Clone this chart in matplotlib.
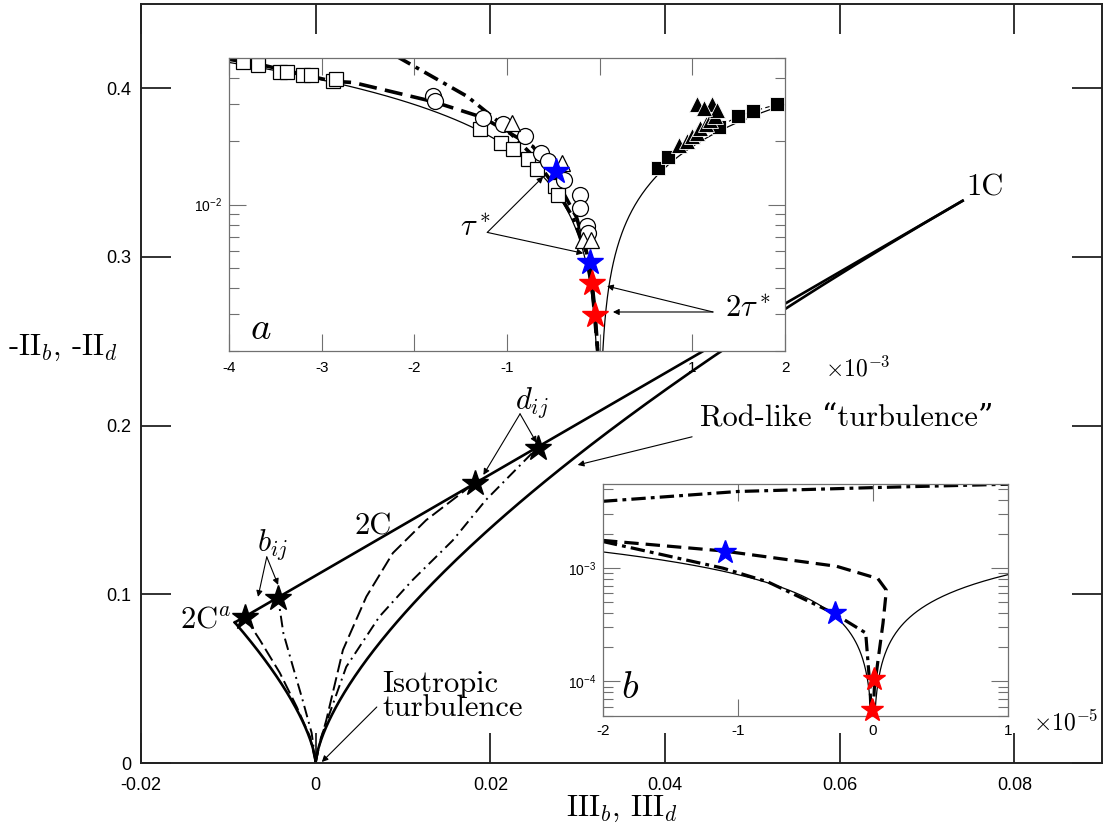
import numpy as np
import matplotlib
matplotlib.use("Agg")
import matplotlib.pyplot as plt
from matplotlib.ticker import FixedLocator, LogLocator, NullFormatter

plt.rcParams["font.family"] = "Liberation Sans"
plt.rcParams["axes.unicode_minus"] = False
plt.rcParams["mathtext.fontset"] = "cm"
# 'custom' math set is only used for the sans tick labels of the log insets
plt.rcParams["mathtext.rm"] = "Liberation Sans"
plt.rcParams["mathtext.it"] = "Liberation Sans:italic"
plt.rcParams["mathtext.sf"] = "Liberation Sans"

SERIF = ["cmr10", "DejaVu Serif"]
TXT = 22
W, H = 1103, 825

# limiting states of the invariant map (III, -II)
ISO = (0.0, 0.0)
TWO_C_AXI = (-1 / 108, 1 / 12)
ONE_C = (2 / 27, 1 / 3)

# main panel: trajectories (III, -II)
b_dash_III = [0.0, -0.00065, -0.00218, -0.0041, -0.0064, -0.0081]
b_dash_II = [0.0, 0.0156, 0.0334, 0.0534, 0.073, 0.0866]
b_dd_III = [0.0, -0.00046, -0.0015, -0.0026, -0.0037, -0.0043]
b_dd_II = [0.0, 0.0178, 0.0374, 0.057, 0.077, 0.098]
d_dash_III = [0.0, 0.0004, 0.00122, 0.00312, 0.0058, 0.00884, 0.01265, 0.0182]
d_dash_II = [0.0, 0.010, 0.0255, 0.067, 0.0986, 0.1245, 0.144, 0.166]
d_dd_III = [0.0, 0.0006, 0.0035, 0.0073, 0.0111, 0.0157, 0.0195, 0.0254]
d_dd_II = [0.0, 0.015, 0.057, 0.0868, 0.1085, 0.132, 0.156, 0.187]
b_star_III = [-0.0081, -0.0043]
b_star_II = [0.0866, 0.098]
d_star_III = [0.0182, 0.0254]
d_star_II = [0.166, 0.187]

main_xticks = [-0.02, 0, 0.02, 0.04, 0.06, 0.08]
main_xlabels = ["-0.02", "0", "0.02", "0.04", "0.06", "0.08"]
main_yticks = [0, 0.1, 0.2, 0.3, 0.4]
main_ylabels = ["0", "0.1", "0.2", "0.3", "0.4"]

# inset a: III in units of 1e-3
sq_open_x = [-3.85, -3.69, -3.45, -3.37, -3.20, -3.11, -2.88, -2.84, -1.29, -1.06, -0.935, -0.77, -0.68, -0.485, -0.45]
sq_open_y = [0.0476, 0.0461, 0.0431, 0.0427, 0.0417, 0.0413, 0.0387, 0.0395, 0.0228, 0.0197, 0.0183, 0.0164, 0.0147, 0.0122, 0.0111]
circ_x = [-1.80, -1.78, -1.26, -1.04, -0.81, -0.63, -0.56, -0.38, -0.216, -0.216, -0.14, -0.126]
circ_y = [0.0329, 0.0311, 0.0259, 0.0241, 0.0212, 0.0176, 0.0161, 0.0131, 0.0111, 0.0096, 0.0079, 0.0073]
tri_open_x = [-0.95, -0.41, -0.18, -0.09]
tri_open_y = [0.0245, 0.0158, 0.0068, 0.0068]
sq_fill_x = [0.626, 0.734, 1.29, 1.49, 1.65, 1.91]
sq_fill_y = [0.0150, 0.0169, 0.0235, 0.0263, 0.0278, 0.0300]
tri_fill_x = [0.86, 0.94, 1.00, 1.05, 1.08, 1.15, 1.19, 1.24, 1.05, 1.21, 1.27, 1.13]
tri_fill_y = [0.0193, 0.0200, 0.0212, 0.0220, 0.0233, 0.0241, 0.0254, 0.0265, 0.0300, 0.0300, 0.0283, 0.0290]
dash_a_x = [-3.99, -3.67, -2.88, -2.66, -1.80, -1.26, -0.72, -0.51, -0.25, -0.14, -0.076, -0.032, -0.02]
dash_a_y = [0.0492, 0.0466, 0.0387, 0.0382, 0.0310, 0.0260, 0.0189, 0.0142, 0.0087, 0.0059, 0.0038, 0.00225, 0.0020]
dd_a_x = [-2.19, -1.43, -1.08, -0.755, -0.51, -0.29, -0.108, -0.054, -0.02]
dd_a_y = [0.0509, 0.0328, 0.0246, 0.0177, 0.0127, 0.0087, 0.0054, 0.0032, 0.0020]
blue_a_x = [-0.475, -0.108]
blue_a_y = [0.0145, 0.0053]
red_a_x = [-0.086, -0.054]
red_a_y = [0.00422, 0.00297]
a_xticks = [-4, -3, -2, -1, 0, 1, 2]
a_xlabels = ["-4", "-3", "-2", "-1", "", "1", "2"]

# inset b: III in units of 1e-5
top_dd_b_x = [-2.0, -1.0, 0.0, 1.0]
top_dd_b_y = [3.9e-3, 4.76e-3, 5.15e-3, 5.52e-3]
dd_b_x = [-2.0, -1.11, -0.78, -0.296, -0.054, -0.022, -0.015]
dd_b_y = [1.72e-3, 1.0e-3, 7.58e-4, 4.03e-4, 2.68e-4, 8.7e-5, 5.6e-5]
dash_b_x = [-2.0, -1.11, -0.27, 0.036, 0.099, 0.074, 0.036, 0.010, 0.004]
dash_b_y = [1.76e-3, 1.42e-3, 1.04e-3, 8.1e-4, 6.4e-4, 3.26e-4, 1.5e-4, 8.7e-5, 6e-5]
blue_b_x = [-1.10, -0.278]
blue_b_y = [1.39e-3, 4.0e-4]
red_b_x = [0.01, -0.007]
red_b_y = [1.06e-4, 5.6e-5]
b_xticks = [-2, -1, 0, 1]
b_xlabels = ["-2", "-1", "0", "1"]


def axisym(a_end, n=800):
    # axisymmetric branch: eigenvalues (a, a, -2a)
    a = np.sign(a_end) * np.geomspace(1e-4, abs(a_end), n)
    return -2 * a**3, 3 * a**2


a_disk = np.sqrt(TWO_C_AXI[1] / 3)
a_rod = -np.sqrt(ONE_C[1] / 3)
disk_III, disk_II = axisym(a_disk)
rod_III, rod_II = axisym(a_rod)


def arrow(ax, start, tip):
    ax.annotate("", xy=tip, xytext=start,
                arrowprops=dict(arrowstyle="-|>", color="k", lw=0.8,
                                mutation_scale=9, shrinkA=0, shrinkB=0),
                zorder=6)


def style_inset(ax):
    for s in ax.spines.values():
        s.set_color("#707070")
        s.set_linewidth(0.9)
    ax.tick_params(which="both", direction="in", top=True, right=True,
                   color="#707070", width=0.8, labelsize=11)
    ax.tick_params(which="major", length=12)
    ax.tick_params(which="minor", length=7)
    ax.tick_params(axis="x", which="minor", bottom=False, top=False)
    ax.yaxis.set_minor_locator(LogLocator(base=10, subs=np.arange(2, 10)))
    ax.yaxis.set_minor_formatter(NullFormatter())


def sans_pow_labels(ax, ticks, exps):
    ax.yaxis.set_major_locator(FixedLocator(ticks))
    ax.set_yticklabels([r"$10^{%d}$" % e for e in exps])
    for t in ax.get_yticklabels():
        t.set_math_fontfamily("custom")


fig = plt.figure(figsize=(W / 100, H / 100), dpi=100)

# ---------------- main invariant map ----------------
ax = fig.add_axes([141 / W, 1 - 763 / H, (1101.7 - 141) / W, (763 - 4) / H])
ax.plot(disk_III, disk_II, color="k", lw=1.9)
ax.plot(rod_III, rod_II, color="k", lw=1.9)
ax.plot([TWO_C_AXI[0], ONE_C[0]], [TWO_C_AXI[1], ONE_C[1]], color="k", lw=1.9)
ax.plot(b_dash_III, b_dash_II, color="k", lw=1.4, dashes=(7, 2.6))
ax.plot(d_dash_III, d_dash_II, color="k", lw=1.4, dashes=(7, 2.6))
ax.plot(b_dd_III, b_dd_II, color="k", lw=1.4, dashes=(6, 2.5, 1, 2.5))
ax.plot(d_dd_III, d_dd_II, color="k", lw=1.4, dashes=(6, 2.5, 1, 2.5))
ax.plot(b_star_III, b_star_II, "*", color="k", ms=19, zorder=5)
ax.plot(d_star_III, d_star_II, "*", color="k", ms=19, zorder=5)

ax.set_xlim(-0.02, 0.09)
ax.set_ylim(0, 0.45)
ax.set_xticks(main_xticks)
ax.set_xticklabels(main_xlabels)
ax.set_yticks(main_yticks)
ax.set_yticklabels(main_ylabels)
ax.tick_params(direction="in", length=21.6, width=1.3, top=True, right=True,
               color="#222222", labelsize=13)
ax.tick_params(axis="x", pad=10)
ax.tick_params(axis="y", pad=7)
for s in ax.spines.values():
    s.set_linewidth(1.4)
    s.set_color("#222222")

ax.text(0.0745, 0.341, "1C", family=SERIF, fontsize=TXT, ha="left", va="center")
ax.text(0.00656, 0.140, "2C", family=SERIF, fontsize=TXT, ha="center", va="center")
ax.text(-0.0096, 0.0848, "2C$^a$", family=SERIF, fontsize=TXT, ha="right", va="center")
ax.text(-0.0049, 0.1293, r"$b_{ij}$", fontsize=TXT, ha="center", va="center")
arrow(ax, (-0.0056, 0.1222), (-0.0066, 0.0985))
arrow(ax, (-0.0056, 0.1222), (-0.0043, 0.1056))
ax.text(0.0247, 0.214, r"$d_{ij}$", fontsize=TXT, ha="center", va="center")
arrow(ax, (0.0234, 0.207), (0.0192, 0.1708))
arrow(ax, (0.0234, 0.207), (0.0253, 0.1898))
ax.text(0.0440, 0.204, "Rod-like \u201cturbulence\u201d", family=SERIF,
        fontsize=TXT, ha="left", va="center")
arrow(ax, (0.0431, 0.1934), (0.0300, 0.1767))
ax.text(0.0076, 0.0397, "Isotropic\nturbulence", family=SERIF, fontsize=TXT,
        ha="left", va="center", linespacing=0.82)
arrow(ax, (0.0070, 0.0332), (0.0007, 0.0006))

fig.text(621.5 / W, 1 - 809 / H, r"III$_b$, III$_d$", family=SERIF,
         fontsize=TXT, ha="center", va="center")
fig.text(63 / W, 1 - 348 / H, r"-II$_b$, -II$_d$", family=SERIF,
         fontsize=TXT, ha="center", va="center")

# ---------------- inset a ----------------
axa = fig.add_axes([229 / W, 1 - 351 / H, 556 / W, 293 / H], zorder=3)
axa.set_yscale("log")
axa.plot(disk_III * 1e3, disk_II, color="k", lw=0.9)
axa.plot(rod_III * 1e3, rod_II, color="k", lw=0.9)
axa.plot(dash_a_x, dash_a_y, color="k", lw=2.6, dashes=(5, 2.3))
axa.plot(dd_a_x, dd_a_y, color="k", lw=2.6, dashes=(4.3, 1.7, 1.1, 1.7))
axa.plot(sq_fill_x, sq_fill_y, color="k", lw=0.8, dashes=(4, 3))
axa.plot(sq_open_x, sq_open_y, "s", ms=10.5, mfc="white", mec="k", mew=0.9)
axa.plot(circ_x, circ_y, "o", ms=11.5, mfc="white", mec="k", mew=0.9)
axa.plot(tri_open_x, tri_open_y, "^", ms=11.5, mfc="white", mec="k", mew=0.9)
axa.plot(sq_fill_x, sq_fill_y, "s", ms=9.5, mfc="k", mec="white", mew=0.6)
axa.plot(tri_fill_x, tri_fill_y, "^", ms=11, mfc="k", mec="white", mew=0.6)
axa.plot(blue_a_x, blue_a_y, "*", color="#0000ff", ms=19, zorder=5)
axa.plot(red_a_x, red_a_y, "*", color="#ff0000", ms=19, zorder=5, clip_on=False)
axa.set_xlim(-4, 2)
axa.set_ylim(0.002, 0.05)
axa.set_xticks(a_xticks)
axa.set_xticklabels(a_xlabels)
style_inset(axa)
sans_pow_labels(axa, [1e-2], [-2])
axa.tick_params(axis="y", labelsize=10, pad=5)
axa.tick_params(axis="x", pad=7)
axa.text(0.038, 0.075, r"$a$", transform=axa.transAxes, fontsize=28,
         ha="left", va="center")
axa.text(1.131, -0.061, r"$\times 10^{-3}$", transform=axa.transAxes,
         fontsize=17, ha="center", va="center", clip_on=False)
axa.text(-1.346, 0.00776, r"$\tau^*$", fontsize=TXT, ha="center", va="center")
arrow(axa, (-1.213, 0.00736), (-0.609, 0.01357))
arrow(axa, (-1.213, 0.00736), (-0.177, 0.00585))
axa.text(1.60, 0.0032, r"$2\tau^*$", fontsize=TXT, ha="center", va="center")
arrow(axa, (1.223, 0.00307), (0.079, 0.00408))
arrow(axa, (1.223, 0.00307), (0.143, 0.00307))

# ---------------- inset b ----------------
axb = fig.add_axes([603 / W, 1 - 715.5 / H, 405 / W, 232 / H], zorder=3)
axb.set_yscale("log")
axb.plot(disk_III * 1e5, disk_II, color="k", lw=0.9)
axb.plot(rod_III * 1e5, rod_II, color="k", lw=0.9)
axb.plot(top_dd_b_x, top_dd_b_y, color="k", lw=2.3, dashes=(4.5, 1.6, 1.2, 1.6))
axb.plot(dd_b_x, dd_b_y, color="k", lw=2.3, dashes=(4.5, 1.6, 1.2, 1.6))
axb.plot(dash_b_x, dash_b_y, color="k", lw=2.3, dashes=(4.5, 2.2))
axb.plot(blue_b_x, blue_b_y, "*", color="#0000ff", ms=17, zorder=5)
axb.plot(red_b_x, red_b_y, "*", color="#ff0000", ms=17, zorder=5, clip_on=False)
axb.set_xlim(-2, 1)
axb.set_ylim(5e-5, 5.6e-3)
axb.set_xticks(b_xticks)
axb.set_xticklabels(b_xlabels)
style_inset(axb)
sans_pow_labels(axb, [1e-4, 1e-3], [-4, -3])
axb.tick_params(axis="y", labelsize=10, pad=5)
axb.tick_params(axis="x", pad=6)
axb.text(0.045, 0.12, r"$b$", transform=axb.transAxes, fontsize=28,
         ha="left", va="center")
axb.text(1.143, -0.032, r"$\times 10^{-5}$", transform=axb.transAxes,
         fontsize=17, ha="center", va="center", clip_on=False)

fig.savefig("out.png", dpi=100)
